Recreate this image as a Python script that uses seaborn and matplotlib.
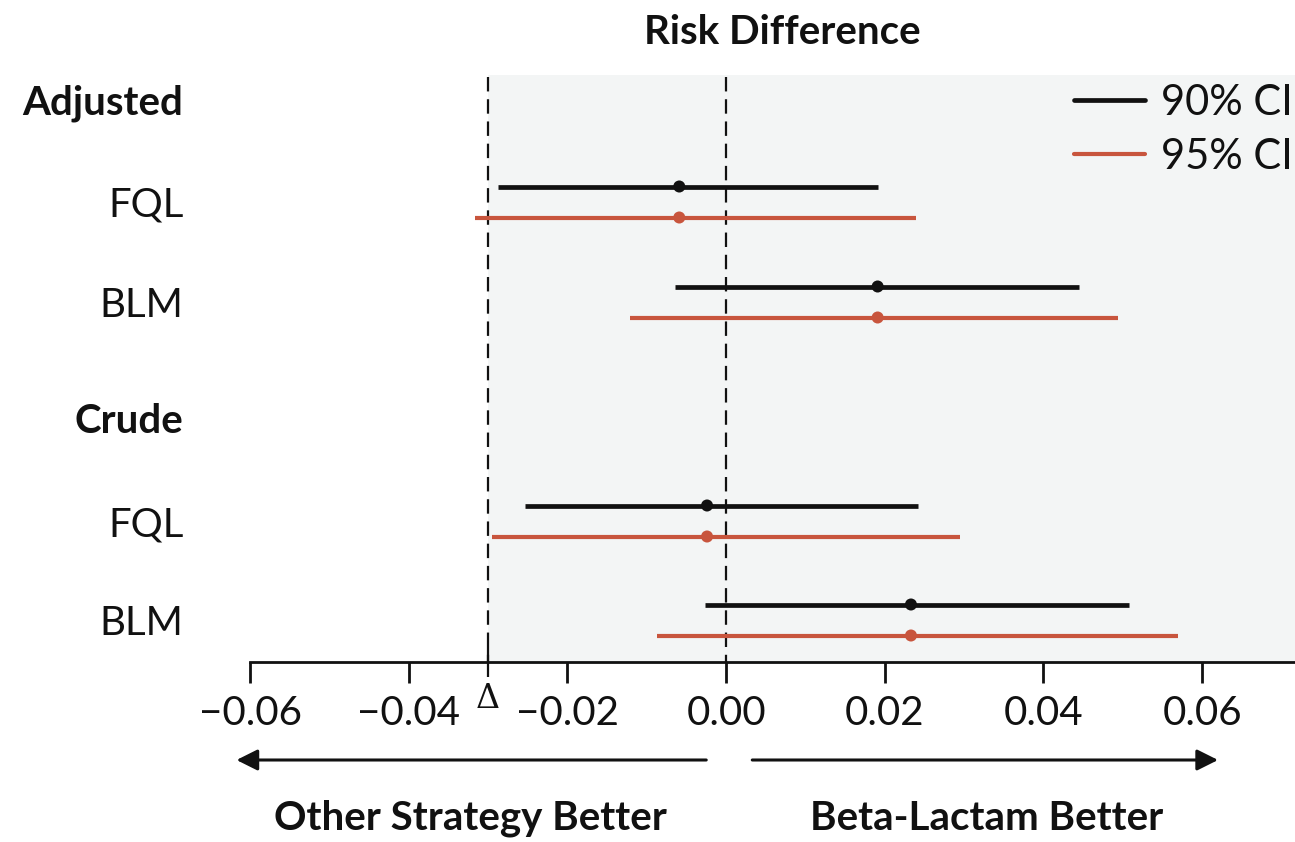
import matplotlib
matplotlib.use("Agg")
import matplotlib.pyplot as plt
from matplotlib.lines import Line2D
import seaborn as sns
import pandas as pd

# ---- data ----
groups = ["Adjusted", "Crude"]
strategies = ["FQL", "BLM", "FQL", "BLM"]
row_group = ["Adjusted", "Adjusted", "Crude", "Crude"]
estimate = [-0.0059, 0.0191, -0.0024, 0.0233]
ci90_low = [-0.0287, -0.0065, -0.0253, -0.0027]
ci90_high = [0.0191, 0.0445, 0.0242, 0.0508]
ci95_low = [-0.0316, -0.0121, -0.0295, -0.0087]
ci95_high = [0.0239, 0.0494, 0.0295, 0.0569]
margin_delta = -0.03
xticks = [-0.06, -0.04, -0.02, 0.00, 0.02, 0.04, 0.06]
xtick_labels = ["\u22120.06", "\u22120.04", "\u22120.02", "0.00", "0.02", "0.04", "0.06"]

# ---- layout (row positions) ----
header_pos = [0.0, 3.18]
row_pos = [1.02, 2.02, 4.21, 5.20]
off = 0.155

BLACK = "#111111"
RED = "#c8553d"
SHADE = "#f3f5f5"
FONT = "Lato"
FS = 29

sns.set_theme(style="white")
plt.rcParams["font.family"] = [FONT, "DejaVu Sans"]

fig = plt.figure(figsize=(12.95, 8.42), dpi=100)
ax = fig.add_axes([250 / 1295, (842 - 662) / 842, (1295 - 250) / 1295, (662 - 75) / 842])
ax.set_xlim(-0.06, 0.0717)
ax.set_ylim(5.62, -0.25)
ax.axvspan(margin_delta, 0.0717, color=SHADE, zorder=0, lw=0)

# reference lines
for xv in [margin_delta, 0.0]:
    ax.plot([xv, xv], [-0.23, 5.62], color=BLACK, lw=1.6, ls=(0, (6.5, 3.5)), zorder=1,
            clip_on=False)

# CI lines
y90 = [p - off for p in row_pos]
y95 = [p + off for p in row_pos]
ax.hlines(y90, ci90_low, ci90_high, color=BLACK, lw=3.4, zorder=3)
ax.hlines(y95, ci95_low, ci95_high, color=RED, lw=3.0, zorder=3)

df = pd.DataFrame({
    "est": estimate + estimate,
    "y": y90 + y95,
    "ci": ["90% CI"] * 4 + ["95% CI"] * 4,
})
sns.scatterplot(data=df, x="est", y="y", hue="ci", palette={"90% CI": BLACK, "95% CI": RED},
                s=75, edgecolor="none", legend=False, ax=ax, zorder=4)

# y labels
ypos = [header_pos[0], row_pos[0], row_pos[1], header_pos[1], row_pos[2], row_pos[3]]
ylabs = [groups[0], strategies[0], strategies[1], groups[1], strategies[2], strategies[3]]
ax.set_yticks(ypos)
ax.set_yticklabels(ylabs)
ax.tick_params(axis="y", length=0, pad=48, labelsize=FS, labelcolor=BLACK)
for t in ax.get_yticklabels():
    if t.get_text() in groups:
        t.set_fontweight("bold")

# x axis
ax.set_xticks(xticks)
ax.set_xticklabels(xtick_labels)
ax.tick_params(axis="x", direction="out", length=15, width=2, pad=9, labelsize=FS,
               labelcolor=BLACK, color=BLACK, bottom=True)
ax.set_xticks([margin_delta], minor=True)
ax.tick_params(axis="x", which="minor", direction="inout", length=22, width=1.6, color=BLACK,
               bottom=True)
ax.text(margin_delta, -0.035, "\u0394", transform=ax.get_xaxis_transform(), ha="center",
        va="top", fontsize=24, family="DejaVu Serif", color=BLACK)

for s in ["top", "right", "left"]:
    ax.spines[s].set_visible(False)
ax.spines["bottom"].set_color(BLACK)
ax.spines["bottom"].set_linewidth(2)
ax.spines["bottom"].set_bounds(-0.06, 0.0717)
ax.set_xlabel("")
ax.set_ylabel("")

# title
fig.text(782 / 1295, 1 - 32 / 842, "Risk Difference", ha="center", va="center",
         fontsize=FS, fontweight="bold", color=BLACK)

# legend
handles = [Line2D([], [], color=BLACK, lw=3.4), Line2D([], [], color=RED, lw=3.0)]
leg = ax.legend(handles, ["90% CI", "95% CI"], loc="upper right", frameon=False,
                fontsize=FS + 1, handlelength=1.7, handletextpad=0.4, labelspacing=0.38,
                bbox_to_anchor=(1293 / 1295, 1 - 84 / 842), bbox_transform=fig.transFigure,
                borderaxespad=0, borderpad=0)
for t in leg.get_texts():
    t.set_color(BLACK)

# arrows
trans = matplotlib.transforms.blended_transform_factory(ax.transData, fig.transFigure)
yarr = 1 - 760 / 842
ax.annotate("", xy=(-0.0617, yarr), xytext=(-0.0025, yarr), xycoords=trans, textcoords=trans,
            arrowprops=dict(arrowstyle="-|>", color=BLACK, lw=2.2, mutation_scale=32,
                            shrinkA=0, shrinkB=0))
ax.annotate("", xy=(0.062, yarr), xytext=(0.0033, yarr), xycoords=trans, textcoords=trans,
            arrowprops=dict(arrowstyle="-|>", color=BLACK, lw=2.2, mutation_scale=32,
                            shrinkA=0, shrinkB=0))
fig.text(470 / 1295, 1 - 818 / 842, "Other Strategy Better", ha="center", va="center",
         fontsize=FS, fontweight="bold", color=BLACK)
fig.text(987 / 1295, 1 - 818 / 842, "Beta-Lactam Better", ha="center", va="center",
         fontsize=FS, fontweight="bold", color=BLACK)

fig.savefig("out.png", dpi=100, facecolor="white")
